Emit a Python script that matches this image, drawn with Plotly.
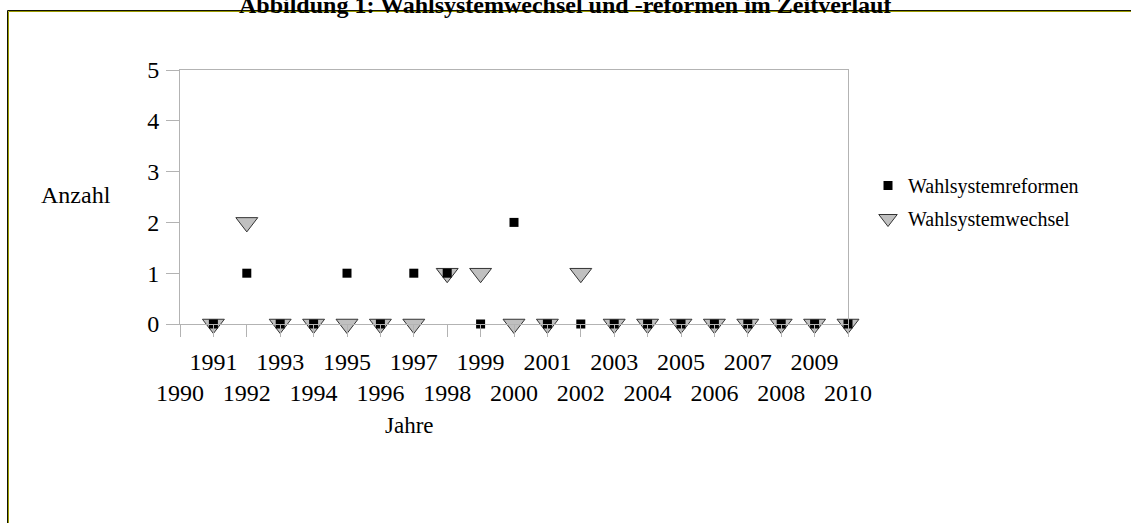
import plotly.graph_objects as go

years = list(range(1990, 2011))
data_years = list(range(1991, 2011))
reformen = [0, 1, 0, 0, 1, 0, 1, 1, 0, 2, 0, 0, 0, 0, 0, 0, 0, 0, 0, 0]
wechsel = [0, 2, 0, 0, 0, 0, 0, 1, 1, 0, 0, 1, 0, 0, 0, 0, 0, 0, 0, 0]
tick_labels = [str(y) if y % 2 else "<br>" + str(y) for y in years]

W, H = 1131, 523
L, R, T, B = 180, 848, 70, 324


def px_x(p):
    return (p - L) / (R - L)


def px_y(p):
    return 1 - (p - T) / (B - T)


FONT = "Liberation Serif, Times New Roman, serif"

fig = go.Figure()
fig.add_trace(go.Scatter(
    x=data_years, y=wechsel, mode="markers", name="Wahlsystemwechsel",
    marker=dict(symbol="triangle-down", size=19, color="#c0c0c0",
                line=dict(color="#333333", width=1)),
    cliponaxis=False, legendrank=2, legendgroup="b",
))
fig.add_trace(go.Scatter(
    x=data_years, y=reformen, mode="markers", name="Wahlsystemreformen",
    marker=dict(symbol="square", size=9, color="#000000"),
    cliponaxis=False, legendrank=1, legendgroup="a",
))

axis_color = "#b3b3b3"
fig.update_layout(
    width=W, height=H,
    margin=dict(l=L, r=W - R, t=T, b=H - B),
    paper_bgcolor="white", plot_bgcolor="white",
    font=dict(family=FONT, color="black", size=24),
    showlegend=True,
    legend=dict(x=px_x(868), y=px_y(166), xanchor="left", yanchor="top",
                font=dict(size=20, family=FONT), traceorder="grouped",
                tracegroupgap=4, bgcolor="rgba(0,0,0,0)"),
    xaxis=dict(range=[1990, 2010], tickvals=years, ticktext=tick_labels,
               showgrid=False, zeroline=False, showline=True, mirror=True,
               linecolor=axis_color, linewidth=1, ticks="outside", ticklen=12,
               tickcolor=axis_color, tickfont=dict(size=24), tickangle=0,
               ticklabelstandoff=4),
    yaxis=dict(range=[0, 5], tickvals=[0, 1, 2, 3, 4, 5],
               showgrid=False, zeroline=False, showline=True, mirror=True,
               linecolor=axis_color, linewidth=1, ticks="outside", ticklen=13,
               tickcolor=axis_color, tickfont=dict(size=24),
               ticklabelstandoff=2),
)

fig.add_annotation(text="Anzahl", xref="paper", yref="paper",
                   x=px_x(76), y=px_y(195), xanchor="center", yanchor="middle",
                   showarrow=False, font=dict(size=24, family=FONT))
fig.add_annotation(text="Jahre", xref="paper", yref="paper",
                   x=px_x(409), y=px_y(425), xanchor="center", yanchor="middle",
                   showarrow=False, font=dict(size=23, family=FONT))
fig.add_annotation(text="<b>Abbildung 1: Wahlsystemwechsel und -reformen im Zeitverlauf</b>",
                   xref="paper", yref="paper", x=px_x(565), y=px_y(20),
                   xanchor="center", yanchor="bottom", showarrow=False,
                   font=dict(size=24, family=FONT))

# page frame (dark line with yellow inner edge)
frame = [
    (7.5, 10.5, W, 10.5, "#111100"),
    (8.5, 11.5, W, 11.5, "#9a9a00"),
    (7.5, 10.5, 7.5, H, "#111100"),
    (8.5, 11.5, 8.5, H, "#9a9a00"),
]
for x0, y0, x1, y1, c in frame:
    fig.add_shape(type="line", xref="paper", yref="paper",
                  x0=px_x(x0), y0=px_y(y0), x1=px_x(x1), y1=px_y(y1),
                  line=dict(color=c, width=1))

fig.write_html("out.html",
               config={"displayModeBar": False},
               post_script="document.body.style.margin='0';"
                           "document.body.style.overflow='hidden';")
